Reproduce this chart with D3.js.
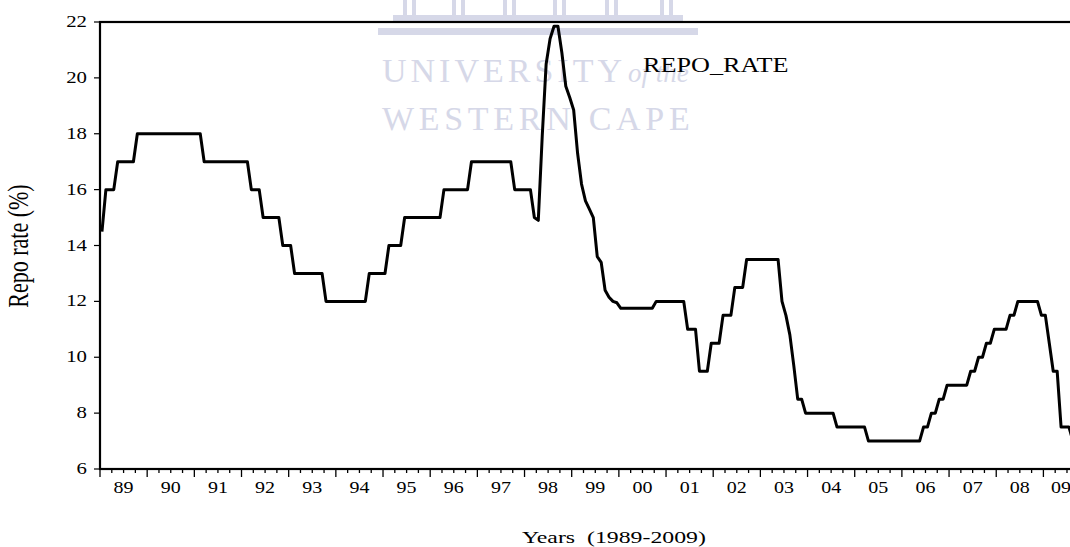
<!DOCTYPE html>
<html>
<head>
<meta charset="utf-8">
<script src="https://cdn.jsdelivr.net/npm/d3@7"></script>
<style>
  body { margin: 0; background: #fff; }
  text { font-family: "Liberation Serif", "Times New Roman", serif; fill: #000; white-space: pre; }
</style>
</head>
<body>
<div id="chart"></div>
<script>
// monthly repo rate, Jan 1989 .. Sep 2009
var startYear = 1989;
var repoRate = [
  14.5, 16, 16, 16, 17, 17, 17, 17, 17, 18, 18, 18,          // 1989
  18, 18, 18, 18, 18, 18, 18, 18, 18, 18, 18, 18,            // 1990
  18, 18, 17, 17, 17, 17, 17, 17, 17, 17, 17, 17,            // 1991
  17, 17, 16, 16, 16, 15, 15, 15, 15, 15, 14, 14,            // 1992
  14, 13, 13, 13, 13, 13, 13, 13, 13, 12, 12, 12,            // 1993
  12, 12, 12, 12, 12, 12, 12, 12, 13, 13, 13, 13,            // 1994
  13, 14, 14, 14, 14, 15, 15, 15, 15, 15, 15, 15,            // 1995
  15, 15, 15, 16, 16, 16, 16, 16, 16, 16, 17, 17,            // 1996
  17, 17, 17, 17, 17, 17, 17, 17, 17, 16, 16, 16,            // 1997
  16, 16, 15, 14.9, 17.9, 20.5, 21.4, 21.85, 21.85, 20.9, 19.7, 19.3, // 1998
  18.85, 17.3, 16.2, 15.6, 15.3, 15.0, 13.6, 13.4, 12.4, 12.15, 12.0, 11.95, // 1999
  11.75, 11.75, 11.75, 11.75, 11.75, 11.75, 11.75, 11.75, 11.75, 12, 12, 12, // 2000
  12, 12, 12, 12, 12, 11, 11, 11, 9.5, 9.5, 9.5, 10.5,       // 2001
  10.5, 10.5, 11.5, 11.5, 11.5, 12.5, 12.5, 12.5, 13.5, 13.5, 13.5, 13.5, // 2002
  13.5, 13.5, 13.5, 13.5, 13.5, 12, 11.5, 10.8, 9.7, 8.5, 8.5, 8, // 2003
  8, 8, 8, 8, 8, 8, 8, 7.5, 7.5, 7.5, 7.5, 7.5,              // 2004
  7.5, 7.5, 7.5, 7, 7, 7, 7, 7, 7, 7, 7, 7,                  // 2005
  7, 7, 7, 7, 7, 7.5, 7.5, 8, 8, 8.5, 8.5, 9,                // 2006
  9, 9, 9, 9, 9, 9.5, 9.5, 10, 10, 10.5, 10.5, 11,           // 2007
  11, 11, 11, 11.5, 11.5, 12, 12, 12, 12, 12, 12, 11.5,      // 2008
  11.5, 10.5, 9.5, 9.5, 7.5, 7.5, 7.5, 7, 7                  // 2009
];
var yTicks = [6, 8, 10, 12, 14, 16, 18, 20, 22];
var yearLabels = ["89","90","91","92","93","94","95","96","97","98","99",
                  "00","01","02","03","04","05","06","07","08","09"];
var seriesName = "REPO_RATE";
var yTitle = "Repo rate (%)";
var xTitle = "Years  (1989-2009)";

var W = 1070, H = 547;
var plotLeft = 100, plotTop = 22, plotBottom = 469;
var endDate = startYear + repoRate.length / 12;
var plotRight = plotLeft + (endDate - startYear) * 47.17;

var svg = d3.select("#chart").append("svg")
    .attr("width", W)
    .attr("height", H);

var x = d3.scaleLinear().domain([startYear, endDate]).range([plotLeft, plotRight]);
var y = d3.scaleLinear().domain([6, 22]).range([plotBottom, plotTop]);

// stretched serif text, like the scanned original
function label(g, px, py, str, size, sx, anchor) {
  return g.append("text")
    .attr("transform", "translate(" + px + "," + py + ") scale(" + sx + ",1)")
    .attr("text-anchor", anchor)
    .style("font-size", size + "px")
    .text(str);
}

// faint watermark of the scan
var wm = svg.append("g").attr("class", "watermark");
var wmCol = "#d6d8e8";
[403, 452, 503, 553, 605, 660].forEach(function(cx) {
  wm.append("rect").attr("x", cx).attr("y", 0).attr("width", 4).attr("height", 15).attr("fill", wmCol);
  wm.append("rect").attr("x", cx + 9).attr("y", 0).attr("width", 4).attr("height", 15).attr("fill", wmCol);
});
wm.append("rect").attr("x", 393).attr("y", 15).attr("width", 290).attr("height", 6).attr("fill", wmCol);
wm.append("rect").attr("x", 378).attr("y", 28).attr("width", 320).attr("height", 7).attr("fill", wmCol);
wm.append("text").attr("x", 382).attr("y", 82)
  .style("font-size", "34px").style("letter-spacing", "4px").style("fill", wmCol)
  .text("UNIVERSITY");
wm.append("text").attr("x", 628).attr("y", 82)
  .style("font-size", "27px").style("font-style", "italic").style("fill", wmCol)
  .text("of the");
wm.append("text").attr("x", 382).attr("y", 130)
  .style("font-size", "34px").style("letter-spacing", "4.7px").style("fill", wmCol)
  .text("WESTERN CAPE");

// frame
svg.append("rect")
  .attr("x", plotLeft).attr("y", plotTop)
  .attr("width", plotRight - plotLeft).attr("height", plotBottom - plotTop)
  .attr("fill", "none").attr("stroke", "#000").attr("stroke-width", 2.2);

// y axis
var yAxis = svg.append("g").attr("class", "axis y--axis");
yAxis.selectAll("line").data(yTicks).enter().append("line")
  .attr("x1", plotLeft - 6).attr("x2", plotLeft)
  .attr("y1", function(d) { return y(d); })
  .attr("y2", function(d) { return y(d); })
  .attr("stroke", "#000").attr("stroke-width", 1.2);
yTicks.forEach(function(d) {
  label(yAxis, 87, y(d) + 5, d, 16, 1.3, "end");
});

// x axis: year ticks + quarterly minor ticks
var xAxis = svg.append("g").attr("class", "axis x--axis");
var quarters = d3.range(startYear * 4, Math.floor(endDate * 4) + 1).map(function(q) { return q / 4; });
xAxis.selectAll("line").data(quarters).enter().append("line")
  .attr("x1", function(d) { return x(d); })
  .attr("x2", function(d) { return x(d); })
  .attr("y1", plotBottom)
  .attr("y2", function(d) { return d % 1 === 0 ? plotBottom + 8 : plotBottom + 4; })
  .attr("stroke", "#000").attr("stroke-width", 1.3);
yearLabels.forEach(function(s, i) {
  var a = startYear + i, b = Math.min(startYear + i + 1, endDate);
  label(xAxis, x((a + b) / 2), 493, s, 16, 1.25, "middle");
});

// series
var line = d3.line()
  .x(function(d, i) { return x(startYear + (i + 0.5) / 12); })
  .y(function(d) { return y(d); });
svg.append("path")
  .datum(repoRate)
  .attr("d", line)
  .attr("fill", "none")
  .attr("stroke", "#000")
  .attr("stroke-width", 3)
  .attr("stroke-linejoin", "round");

// texts
label(svg, 643, 72, seriesName, 22, 1.19, "start");
label(svg, 522, 543, xTitle, 17, 1.4, "start");
svg.append("text")
  .attr("transform", "translate(28,246) scale(1.3,1) rotate(-90)")
  .attr("text-anchor", "middle")
  .style("font-size", "22px")
  .text(yTitle);
</script>
</body>
</html>
